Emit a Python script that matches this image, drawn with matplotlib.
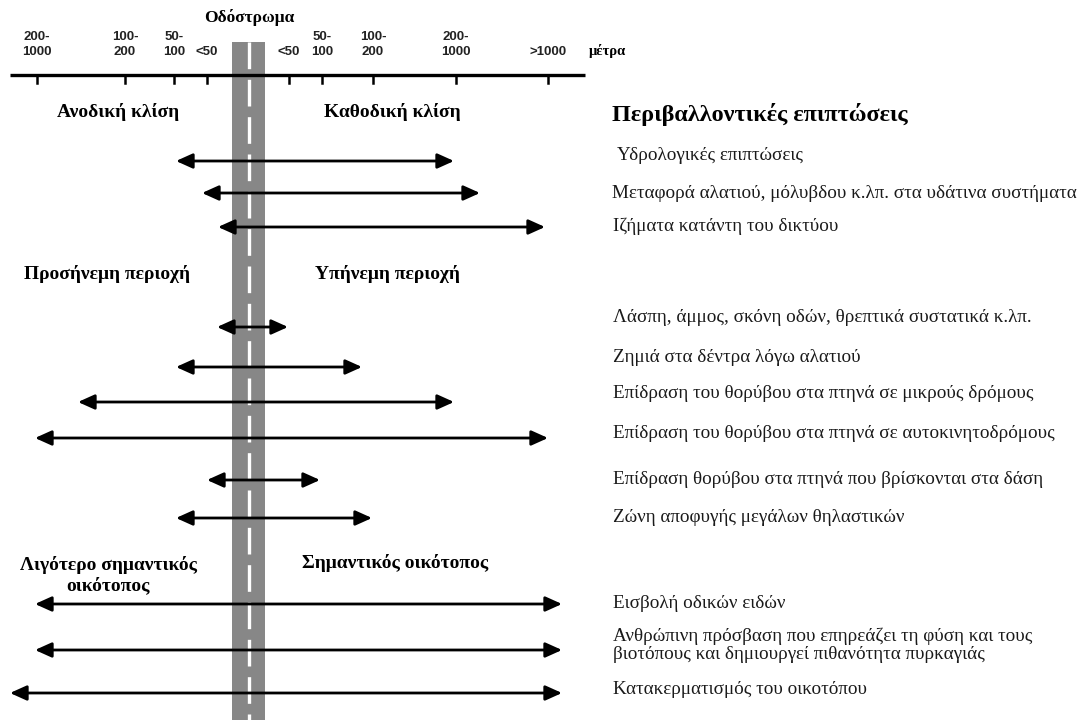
import matplotlib.pyplot as plt
from matplotlib import rcParams
from matplotlib.patches import Rectangle

rcParams.update({"font.family": ["Liberation Serif", "DejaVu Serif"]})

W, H = 1086, 720

# ---------- scale (top axis) ------------------------------------------------
TICK_X = [37, 125, 174, 207, 289, 322, 373, 456, 548]
TICK_LABELS = ["200-\n1000", "100-\n200", "50-\n100", "<50",
               "<50", "50-\n100", "100-\n200", "200-\n1000", ">1000"]

# ---------- impacts: arrow extent (left, right), row position, label --------
ARROW_LEFT = [176, 202, 218, 217, 176, 78, 35, 207, 176, 35, 35, 10]
ARROW_RIGHT = [454, 480, 545, 288, 362, 454, 548, 320, 372, 562, 562, 562]
ARROW_Y = [161, 193, 227, 327, 367, 402, 438, 480, 518, 604, 650, 693]
LABEL_Y = [156, 193, 226, 318, 357, 393, 434, 479, 517, 604, 645, 690]
LABELS = [
    "Υδρολογικές επιπτώσεις",
    "Μεταφορά αλατιού, μόλυβδου κ.λπ. στα υδάτινα συστήματα",
    "Ιζήματα κατάντη του δικτύου",
    "Λάσπη, άμμος, σκόνη οδών, θρεπτικά συστατικά κ.λπ.",
    "Ζημιά στα δέντρα λόγω αλατιού",
    "Επίδραση του θορύβου στα πτηνά σε μικρούς δρόμους",
    "Επίδραση του θορύβου στα πτηνά σε αυτοκινητοδρόμους",
    "Επίδραση θορύβου στα πτηνά που βρίσκονται στα δάση",
    "Ζώνη αποφυγής μεγάλων θηλαστικών",
    "Εισβολή οδικών ειδών",
    "Ανθρώπινη πρόσβαση που επηρεάζει τη φύση και τους\nβιοτόπους και δημιουργεί πιθανότητα πυρκαγιάς",
    "Κατακερματισμός του οικοτόπου",
]
LABEL_X = [617, 612, 613, 613, 613, 613, 613, 613, 613, 613, 613, 613]

# ---------- section headings -------------------------------------------------
HEAD_LEFT = ["Ανοδική κλίση", "Προσήνεμη περιοχή", "Λιγότερο σημαντικός\nοικότοπος"]
HEAD_RIGHT = ["Καθοδική κλίση", "Υπήνεμη περιοχή", "Σημαντικός οικότοπος"]
HEAD_LEFT_Y = [112, 274, 575]
HEAD_RIGHT_Y = [112, 274, 563]
HEAD_LEFT_X = [118, 107, 108]
HEAD_RIGHT_X = [392, 387, 395]

fig = plt.figure(figsize=(W / 100, H / 100), dpi=100)
ax = fig.add_axes([0, 0, 1, 1])
ax.set_xlim(0, W)
ax.set_ylim(H, 0)
ax.axis("off")

# road
ax.add_patch(Rectangle((232, 42), 33, H - 42, facecolor="#878787",
                       edgecolor="none", zorder=1))
ax.plot([248.5, 248.5], [42, H], color="white", lw=2.4,
        dashes=(8, 3.2), zorder=2)

# scale axis
ax.plot([10, 585], [75, 75], color="black", lw=2.4, zorder=3,
        solid_capstyle="butt")
for x, lab in zip(TICK_X, TICK_LABELS):
    ax.plot([x, x], [75, 83], color="black", lw=1.8, zorder=3)
    ax.text(x, 58, lab, ha="center", va="bottom", fontsize=9.5,
            fontweight="bold", family="Liberation Sans", linespacing=1.35,
            color="#222222")
ax.text(589, 58, "μέτρα", ha="left", va="bottom", fontsize=10.5,
        fontweight="bold")
ax.text(249, 18, "Οδόστρωμα", ha="center", va="center", fontsize=12.5,
        fontweight="bold")

# headings
for t, x, y in zip(HEAD_LEFT, HEAD_LEFT_X, HEAD_LEFT_Y):
    ax.text(x, y, t, ha="center", va="center", multialignment="center",
            fontsize=14, fontweight="bold", linespacing=1.2)
for t, x, y in zip(HEAD_RIGHT, HEAD_RIGHT_X, HEAD_RIGHT_Y):
    ax.text(x, y, t, ha="center", va="center", fontsize=14,
            fontweight="bold")
ax.text(612, 115, "Περιβαλλοντικές επιπτώσεις", ha="left", va="center",
        fontsize=17.5, fontweight="bold")

# arrows + labels
for x0, x1, ya, yl, xl, lab in zip(ARROW_LEFT, ARROW_RIGHT, ARROW_Y,
                                   LABEL_Y, LABEL_X, LABELS):
    ax.annotate("", xy=(x1, ya), xytext=(x0, ya),
                arrowprops=dict(arrowstyle="<|-|>,head_length=1.0,head_width=0.45",
                                color="black", lw=2.0, shrinkA=0, shrinkB=0),
                zorder=4)
    ax.text(xl, yl, lab, ha="left", va="center", fontsize=13.8,
            color="#1a1a1a", linespacing=1.1)

fig.savefig("out.png", dpi=100)
